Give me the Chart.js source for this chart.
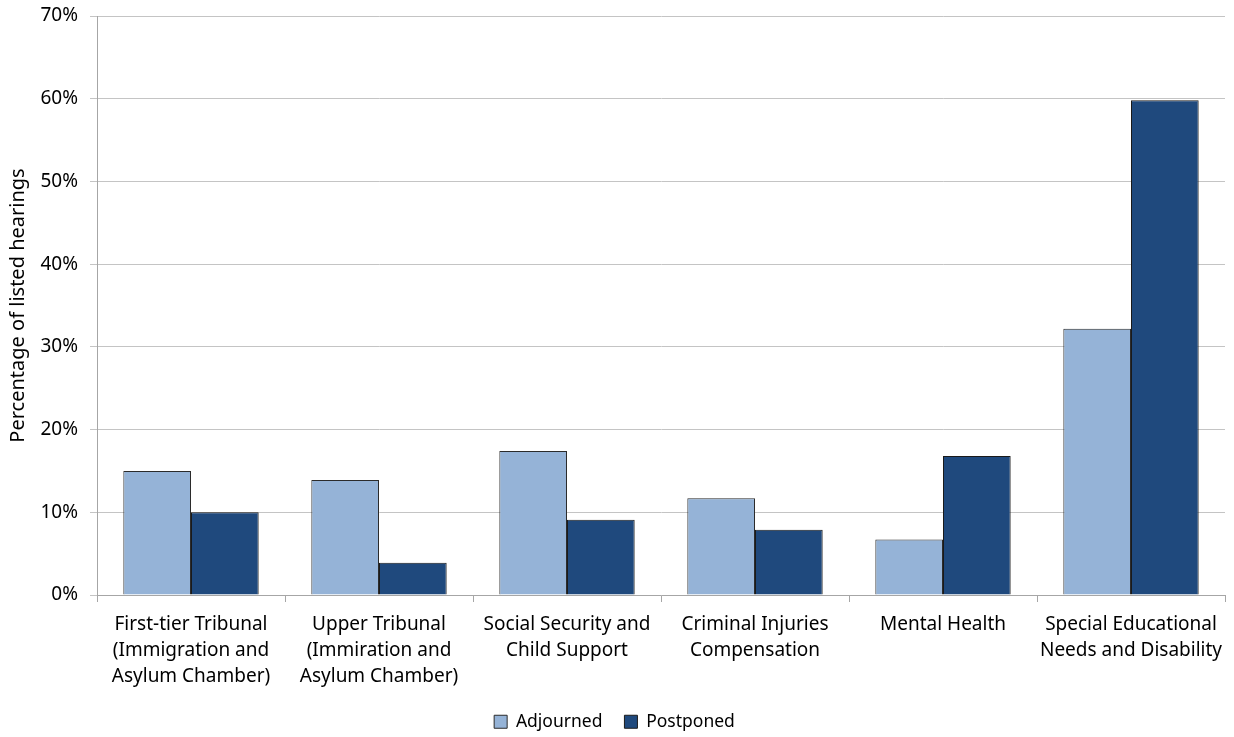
<!DOCTYPE html>
<html>
<head>
<meta charset="utf-8">
<script src="https://cdn.jsdelivr.net/npm/chart.js@4/dist/chart.umd.min.js"></script>
<style>
  html, body { margin: 0; padding: 0; background: #fff; }
  #wrap { width: 1234px; height: 737px; }
</style>
</head>
<body>
<div id="wrap"><canvas id="chart"></canvas></div>
<script>
// categories (multi-line labels, as in the original)
const categories = [
    ['First-tier Tribunal', '(Immigration and', 'Asylum Chamber)'],
    ['Upper Tribunal', '(Immiration and', 'Asylum Chamber)'],
    ['Social Security and', 'Child Support'],
    ['Criminal Injuries', 'Compensation'],
    ['Mental Health'],
    ['Special Educational', 'Needs and Disability']
];
const adjourned = [15.0, 13.9, 17.4, 11.7, 6.7, 32.2];
const postponed = [10.0, 3.9, 9.1, 7.9, 16.8, 59.8];

const FONT = "'Noto Sans', 'Open Sans', sans-serif";

// fixe la hauteur de la légende (les items gardent leur espacement horizontal)
const legendHeight = {
    id: 'legendHeight',
    beforeInit(chart) {
        const fit = chart.legend.fit;
        chart.legend.fit = function () {
            fit.call(this);
            this.height = 46;
        };
    }
};

const ctx = document.getElementById('chart').getContext('2d');
new Chart(ctx, {
    type: 'bar',
    data: {
        labels: categories,
        datasets: [
            { label: 'Adjourned', data: adjourned, backgroundColor: '#95b3d7', borderColor: '#2b2b2b', borderWidth: 1 },
            { label: 'Postponed', data: postponed, backgroundColor: '#1f497d', borderColor: '#1a1a1a', borderWidth: 1 }
        ]
    },
    options: {
        responsive: true,
        maintainAspectRatio: false,
        animation: false,
        layout: { padding: { left: 4, right: 9, top: 16, bottom: 0 } },
        datasets: { bar: { categoryPercentage: 0.72, barPercentage: 1.0 } },
        plugins: {
            legend: {
                position: 'bottom',
                labels: {
                    color: '#000',
                    font: { family: FONT, size: 17.5 },
                    boxWidth: 13,
                    boxHeight: 13,
                    padding: 22
                }
            },
            tooltip: { enabled: false }
        },
        scales: {
            x: {
                afterFit: s => { s.height = 96; },
                grid: { display: true, drawOnChartArea: false, color: '#a6a6a6', tickLength: 7, offset: true },
                border: { color: '#a6a6a6' },
                ticks: { color: '#000', font: { family: FONT, size: 19, lineHeight: 1.37 }, maxRotation: 0, autoSkip: false, padding: 10 }
            },
            y: {
                min: 0,
                max: 70,
                afterFit: s => { s.width = 93; s.paddingTop = 0; s.paddingBottom = 0; },
                grid: { color: '#c4c4c4', tickLength: 7 },
                border: { color: '#a6a6a6' },
                title: { display: true, text: 'Percentage of listed hearings', color: '#000', font: { family: FONT, size: 20 }, padding: 2 },
                ticks: { stepSize: 10, color: '#000', font: { family: FONT, size: 19 }, padding: 12, callback: v => v + '%' }
            }
        }
    },
    plugins: [legendHeight]
});
</script>
</body>
</html>
